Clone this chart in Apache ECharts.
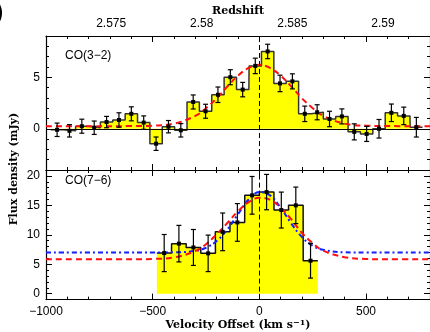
<!DOCTYPE html>
<html>
<head>
<meta charset="utf-8">
<script src="https://cdn.jsdelivr.net/npm/echarts@6/dist/echarts.min.js"></script>
<style>
  html, body { margin: 0; padding: 0; background: #fff; }
  #chart { width: 430px; height: 332px; }
</style>
</head>
<body>
<div id="chart"></div>
<script>
// CO(3-2) spectrum (top panel), bins of ~58 km/s
const coLowVel = [-948, -890, -832, -774, -716, -658, -600, -542, -484, -426, -368, -310, -252, -194, -136,
  -78, -19, 39, 97, 155, 213, 271, 329, 387, 445, 503, 561, 619, 677, 736]
const coLowFlux = [-0.1, -0.2, 0.25, 0.1, 0.65, 0.85, 1.45, 0.6, -1.45, 0.2, -0.15, 2.6, 1.7, 3.3, 5.0,
  3.8, 6.1, 7.5, 4.4, 4.6, 1.45, 1.6, 0.95, 1.2, -0.3, -0.5, 0.0, 1.55, 1.25, 0.15]
const coLowErr = [0.65, 0.6, 0.68, 0.65, 0.55, 0.7, 0.68, 0.65, 0.65, 0.6, 0.65, 0.68, 0.68, 0.75, 0.73,
  0.7, 0.75, 0.7, 0.8, 0.73, 0.75, 0.73, 0.75, 0.73, 0.78, 0.73, 0.9, 0.85, 0.85, 0.95]
const coLowBin = 58

// CO(7-6) spectrum (bottom panel), bins of ~68.6 km/s
const coHighVel = [-446, -377, -309, -240, -172, -103, -34, 34, 103, 171, 240]
const coHighFlux = [6.9, 8.5, 7.85, 6.85, 10.5, 12.1, 16.7, 17.25, 14.2, 15.0, 5.6]
const coHighErr = [3.15, 3.1, 3.05, 3.1, 3.2, 3.2, 3.2, 3.0, 3.05, 3.1, 2.95]
const coHighBin = 68.6

// fitted line profiles
const fitLowVel = [-1000, -800, -600, -500, -400, -300, -250, -200, -150, -100, -50, 0, 50, 100, 150, 200, 250, 300, 400, 500, 600, 800]
const fitLowFlux = [0.25, 0.25, 0.26, 0.3, 0.5, 1.25, 2.0, 2.95, 4.1, 5.15, 5.9, 6.2, 5.9, 5.15, 4.1, 2.95, 2.0, 1.25, 0.5, 0.3, 0.26, 0.25]
const fitHighVel = [-1000, -600, -500, -400, -300, -250, -200, -150, -100, -50, 0, 50, 100, 150, 200, 250, 300, 400, 500, 600, 800]
const fitHighRed = [5.85, 5.85, 5.9, 6.15, 7.25, 8.4, 10.1, 12.0, 14.0, 15.55, 16.3, 15.95, 14.6, 12.6, 10.3, 8.6, 7.3, 6.2, 5.9, 5.85, 5.85]
const fitHighBlue = [7.0, 7.0, 7.0, 7.02, 7.27, 7.8, 8.95, 10.9, 13.5, 16.0, 17.25, 16.7, 14.6, 11.9, 9.6, 8.15, 7.45, 7.03, 7.0, 7.0, 7.0]

// tick labels
const velTicks = [-1000, -500, 0, 500]
const zTicks = [2.575, 2.58, 2.585, 2.59]
const lowTicks = [0, 5]
const highTicks = [0, 5, 10, 15, 20]

const chart = echarts.init(document.getElementById('chart'))

const labelFont = { fontFamily: 'Liberation Sans', fontSize: 12, color: '#000' }
const titleFont = { fontFamily: 'DejaVu Serif', fontWeight: 'bold', fontSize: 11, color: '#000' }
const minus = v => (v < 0 ? '\u2212' + Math.abs(v) : String(v))

const stepPoints = (vel, flux, w) => {
  const pts = []
  vel.forEach((v, i) => { pts.push([v - w / 2, flux[i]], [v + w / 2, flux[i]]) })
  return pts
}

// minor ticks + frame line
const frameAxis = (grid, pos, min, max, interval) => ({
  type: 'value', gridIndex: grid, position: pos, min, max, interval,
  axisLine: { show: true, onZero: false, lineStyle: { color: '#000', width: 1.2 } },
  axisTick: { show: true, inside: true, length: 3, lineStyle: { color: '#000', width: 1 } },
  axisLabel: { show: false },
  splitLine: { show: false }
})

// major ticks, optional labels
const majorAxis = (grid, pos, min, max, ticks, labels) => ({
  type: 'value', gridIndex: grid, position: pos, min, max,
  axisLine: { show: false, onZero: false },
  axisTick: { show: true, inside: true, length: 6, customValues: ticks, lineStyle: { color: '#000', width: 1 } },
  axisLabel: { show: !!labels, customValues: ticks, margin: 6, formatter: minus, ...labelFont },
  splitLine: { show: false }
})

const errorBars = (params, api) => {
  const x = api.value(0)
  const y = api.value(1)
  const e = api.value(2)
  const c = api.coord([x, y])
  const hi = api.coord([x, y + e])
  const lo = api.coord([x, y - e])
  const style = { stroke: '#000', lineWidth: 1.2 }
  return {
    type: 'group',
    children: [
      { type: 'line', shape: { x1: c[0], y1: hi[1], x2: c[0], y2: lo[1] }, style },
      { type: 'line', shape: { x1: c[0] - 2.5, y1: hi[1], x2: c[0] + 2.5, y2: hi[1] }, style },
      { type: 'line', shape: { x1: c[0] - 2.5, y1: lo[1], x2: c[0] + 2.5, y2: lo[1] }, style },
      { type: 'rect', shape: { x: c[0] - 2, y: c[1] - 2, width: 4, height: 4 }, style: { fill: '#000' } }
    ]
  }
}

const zeroLine = { type: [5, 3], color: '#000', width: 1 }

const option = {
  animation: false,
  grid: [
    { left: 46, top: 36, width: 385, height: 134 },
    { left: 46, top: 170, width: 385, height: 133 }
  ],
  xAxis: [
    frameAxis(0, 'bottom', -1000, 800, 100),
    majorAxis(0, 'bottom', -1000, 800, velTicks, false),
    frameAxis(0, 'top', -1000, 800, 100),
    majorAxis(0, 'top', -1000, 800, velTicks, false),
    {
      type: 'value', gridIndex: 0, position: 'top', min: 2.5714, max: 2.5926,
      axisLine: { show: false }, axisTick: { show: false }, splitLine: { show: false },
      axisLabel: { customValues: zTicks, margin: 6, formatter: v => String(v), ...labelFont },
      name: 'Redshift', nameLocation: 'middle', nameGap: 19, nameTextStyle: titleFont
    },
    frameAxis(1, 'bottom', -1000, 800, 100),
    {
      ...majorAxis(1, 'bottom', -1000, 800, velTicks, true),
      name: '{t|Velocity Offset (km s}{s|\u22121}{t|)}', nameLocation: 'middle', nameGap: 18,
      nameTextStyle: {
        rich: {
          t: { ...titleFont },
          s: { ...titleFont, fontSize: 8, verticalAlign: 'top', padding: [0, 0, 6, 0] }
        }
      }
    },
    frameAxis(1, 'top', -1000, 800, 100),
    majorAxis(1, 'top', -1000, 800, velTicks, false)
  ],
  yAxis: [
    frameAxis(0, 'left', -4, 9, 1),
    majorAxis(0, 'left', -4, 9, lowTicks, true),
    frameAxis(0, 'right', -4, 9, 1),
    majorAxis(0, 'right', -4, 9, lowTicks, false),
    frameAxis(1, 'left', -1, 21, 1),
    majorAxis(1, 'left', -1, 21, highTicks, true),
    frameAxis(1, 'right', -1, 21, 1),
    majorAxis(1, 'right', -1, 21, highTicks, false)
  ],
  series: [
    {
      type: 'line', xAxisIndex: 0, yAxisIndex: 0, z: 1,
      data: stepPoints(coLowVel, coLowFlux, coLowBin),
      symbol: 'none',
      lineStyle: { color: '#333', width: 1.5 },
      areaStyle: { color: '#ffff00', opacity: 1, origin: 'auto' }
    },
    {
      type: 'line', xAxisIndex: 0, yAxisIndex: 0, z: 3,
      data: fitLowVel.map((v, i) => [v, fitLowFlux[i]]),
      symbol: 'none', smooth: 0.4,
      lineStyle: { color: '#ff1010', width: 2, type: [6, 4] },
      markLine: {
        silent: true, symbol: 'none', label: { show: false },
        data: [
          { yAxis: 0, lineStyle: { type: 'solid', color: '#000', width: 1.2 } },
          { xAxis: 0, lineStyle: zeroLine }
        ]
      }
    },
    {
      type: 'custom', xAxisIndex: 0, yAxisIndex: 0, z: 4,
      renderItem: errorBars,
      encode: { x: 0, y: 1 },
      data: coLowVel.map((v, i) => [v, coLowFlux[i], coLowErr[i]])
    },
    {
      type: 'line', xAxisIndex: 5, yAxisIndex: 4, z: 1,
      data: stepPoints(coHighVel, coHighFlux, coHighBin),
      symbol: 'none',
      lineStyle: { color: '#111', width: 1.5 },
      areaStyle: { color: '#ffff00', opacity: 1, origin: 'auto' }
    },
    {
      type: 'line', xAxisIndex: 5, yAxisIndex: 4, z: 3,
      data: fitHighVel.map((v, i) => [v, fitHighBlue[i]]),
      symbol: 'none', smooth: 0.4,
      lineStyle: { color: '#1020ff', width: 2, type: [5, 3, 2, 3] },
      markLine: {
        silent: true, symbol: 'none', label: { show: false },
        data: [{ xAxis: 0, lineStyle: zeroLine }]
      }
    },
    {
      type: 'line', xAxisIndex: 5, yAxisIndex: 4, z: 3,
      data: fitHighVel.map((v, i) => [v, fitHighRed[i]]),
      symbol: 'none', smooth: 0.4,
      lineStyle: { color: '#ff1010', width: 2, type: [6, 4] }
    },
    {
      type: 'custom', xAxisIndex: 5, yAxisIndex: 4, z: 4,
      renderItem: errorBars,
      encode: { x: 0, y: 1 },
      data: coHighVel.map((v, i) => [v, coHighFlux[i], coHighErr[i]])
    }
  ],
  graphic: [
    { type: 'text', left: 65, top: 50, style: { text: 'CO(3\u22122)', ...labelFont, fill: '#000' } },
    { type: 'text', left: 65, top: 175, style: { text: 'CO(7\u22126)', ...labelFont, fill: '#000' } },
    {
      type: 'text', x: 14, y: 169, rotation: Math.PI / 2,
      style: { text: 'Flux density (mJy)', ...titleFont, fill: '#000', align: 'center', verticalAlign: 'middle' }
    },
    { type: 'text', x: -5, y: 0, style: { text: ')', fontFamily: 'Liberation Sans', fontSize: 26, fill: '#000' } }
  ]
}

chart.setOption(option)
</script>
</body>
</html>
